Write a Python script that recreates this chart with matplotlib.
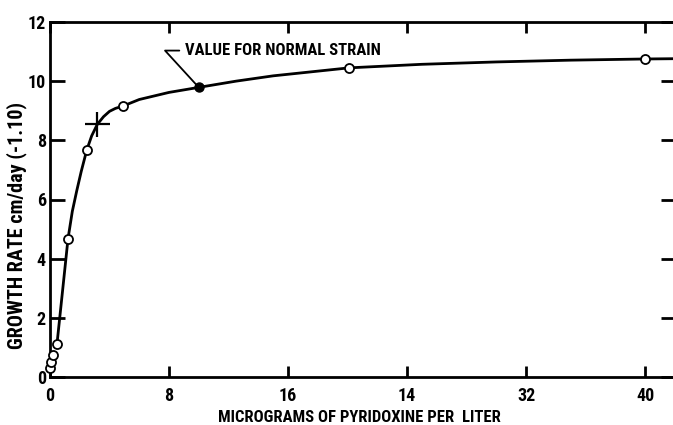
import matplotlib
matplotlib.use('Agg')
import matplotlib.pyplot as plt
from matplotlib import font_manager

# pick a narrow bold face if one is there
fam = 'DejaVu Sans'
for name in ['Liberation Sans Narrow', 'DejaVu Sans Condensed', 'Roboto Condensed']:
    try:
        font_manager.findfont(font_manager.FontProperties(family=name),
                              fallback_to_default=False)
        fam = name
        break
    except Exception:
        pass
print('font:', fam)
plt.rcParams['font.family'] = [fam, 'DejaVu Sans']
plt.rcParams['font.weight'] = 'bold'

# measured points (open circles)
x_pts = [0.03, 0.1, 0.2, 0.47, 1.21, 2.47, 4.91, 20.1, 40.0]
y_pts = [0.29, 0.5, 0.74, 1.12, 4.67, 7.67, 9.16, 10.45, 10.75]

# normal strain (filled point)
x_norm = [10.0]
y_norm = [9.79]

# cross marker on the curve
x_cross = [3.18]
y_cross = [8.54]

# hand drawn curve
x_curve = [0.47, 0.8, 1.21, 1.5, 1.8, 2.1, 2.47, 2.8, 3.18, 3.6, 4.0, 4.4,
           4.91, 6.0, 7.0, 8.0, 10.0, 12.5, 15.0, 20.1, 25.0, 30.0, 35.0,
           40.0, 42.1]
y_curve = [1.12, 2.7, 4.67, 5.6, 6.3, 6.95, 7.67, 8.15, 8.54, 8.8, 8.98, 9.08,
           9.16, 9.38, 9.5, 9.62, 9.79, 10.0, 10.18, 10.45, 10.57, 10.65, 10.71,
           10.75, 10.76]

x_ticks = [0, 8, 16, 24, 32, 40]
x_labels = ['0', '8', '16', '14', '32', '40']
y_ticks = [0, 2, 4, 6, 8, 10, 12]
y_labels = ['0', '2', '4', '6', '8', '10', '12']

fig = plt.figure(figsize=(6.73, 4.25), dpi=100)
ax = fig.add_axes([50 / 673, 48 / 425, 626 / 673, 355 / 425])

ax.plot(x_curve, y_curve, color='black', lw=2.0, zorder=2)
ax.plot(x_pts, y_pts, 'o', ms=6.5, mfc='white', mec='black', mew=1.3,
        zorder=3, clip_on=False)
ax.plot(x_norm, y_norm, 'o', ms=6.5, mfc='black', mec='black', zorder=3)
ax.plot(x_cross, y_cross, '+', ms=18, mec='black', mew=1.6, zorder=3)

ax.annotate('VALUE FOR NORMAL STRAIN', xy=(x_norm[0], y_norm[0]),
            xytext=(-10, 26.5), textcoords='offset points',
            fontsize=12, fontweight='bold', va='center', ha='left',
            arrowprops=dict(arrowstyle='-', color='black', lw=1.3,
                            shrinkA=2, shrinkB=0, relpos=(0, 0.5),
                            connectionstyle='angle,angleA=0,angleB=-47.5,rad=0'))

ax.set_xlim(0, 42.08)
ax.set_ylim(0, 12)
ax.set_xticks(x_ticks)
ax.set_xticklabels(x_labels)
ax.set_yticks(y_ticks)
ax.set_yticklabels(y_labels)

for s in ['left', 'bottom', 'top']:
    ax.spines[s].set_linewidth(2)
ax.spines['right'].set_visible(False)

ax.tick_params(axis='x', direction='in', length=8, width=2, pad=7,
               labelsize=13, top=True)
ax.tick_params(axis='y', direction='in', length=11, width=2, pad=3,
               labelsize=13, right=True)

ax.set_xlabel('MICROGRAMS OF PYRIDOXINE PER  LITER', fontsize=12,
              fontweight='bold')
ax.xaxis.set_label_coords(0.495, -0.093)
ax.set_ylabel('GROWTH RATE cm/day (-1.10)', fontsize=14.5, fontweight='bold')
ax.yaxis.set_label_coords(-0.036, 0.428)

fig.savefig('out.png', dpi=100)
